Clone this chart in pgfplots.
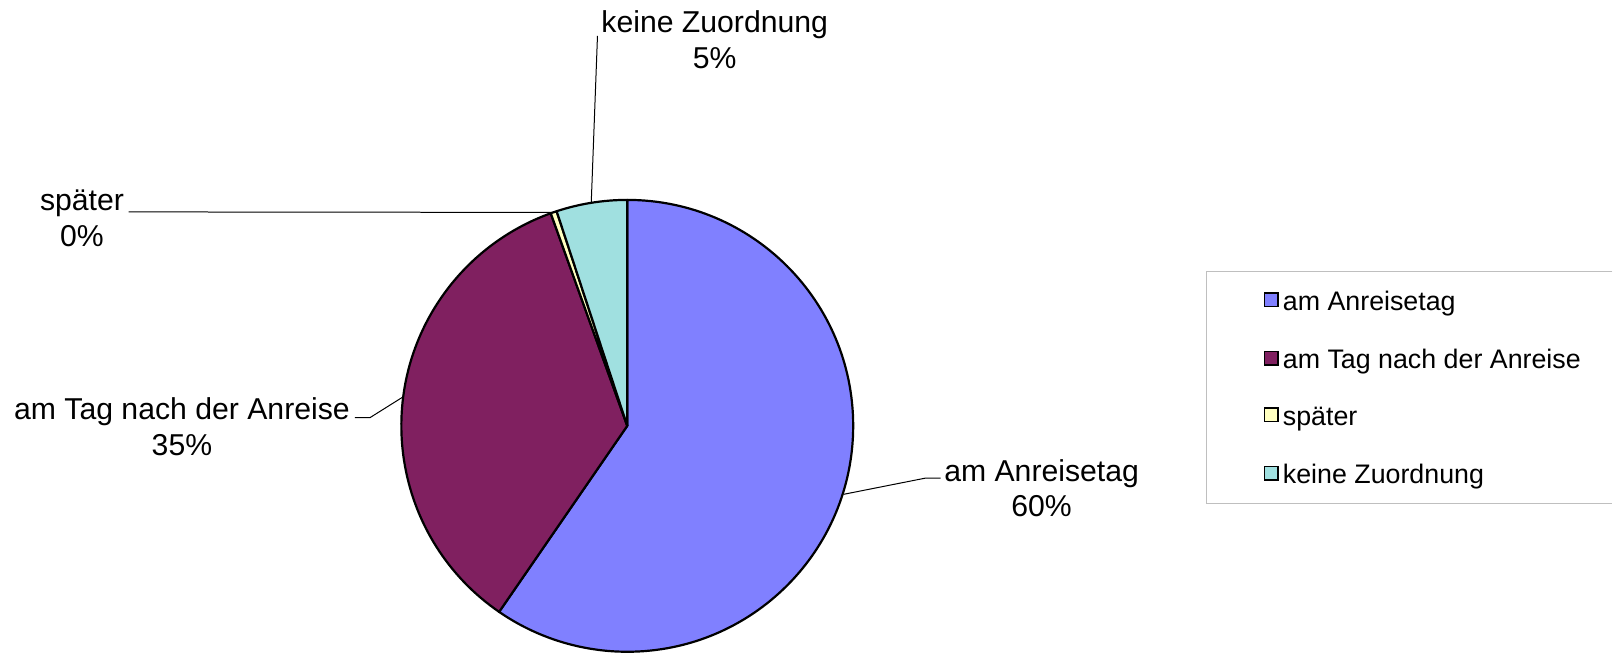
\documentclass[border=0pt]{standalone}
\usepackage{fontspec}
\setmainfont{Liberation Sans}
\usepackage{pgfplots}
\pgfplotsset{compat=1.18}
\definecolor{cA}{HTML}{8080FF}
\definecolor{cB}{HTML}{802060}
\definecolor{cC}{HTML}{FFFFC0}
\definecolor{cD}{HTML}{A0E0E0}
\definecolor{lgray}{HTML}{BFBFBF}
\tikzset{lab/.style={font=\fontsize{15.1bp}{18bp}\selectfont,inner sep=0pt,anchor=base},
  leg/.style={font=\fontsize{13.4bp}{16bp}\selectfont,inner sep=0pt,anchor=base west}}
\begin{document}
\begin{tikzpicture}
% shares in percent
\def\vA{59.6}% am Anreisetag
\def\vB{34.9}% am Tag nach der Anreise
\def\vC{0.44}% spaeter
\def\vD{5.06}% keine Zuordnung
\pgfmathsetmacro{\sA}{90}
\pgfmathsetmacro{\eA}{\sA-3.6*\vA}
\pgfmathsetmacro{\eB}{\eA-3.6*\vB}
\pgfmathsetmacro{\eC}{\eB-3.6*\vC}
\pgfmathsetmacro{\eD}{\eC-3.6*\vD}
\begin{axis}[x=0.5bp,y=0.5bp,xmin=0,xmax=1613,ymin=0,ymax=653,hide axis,clip=false]
\path (axis cs:0,0) rectangle (axis cs:1613,653);
\filldraw[fill=cA,draw=black,line width=1.1bp,line join=round] (axis cs:627.5,227) -- ++(\sA:113bp) arc[start angle=\sA,end angle=\eA,radius=113bp] -- cycle;
\filldraw[fill=cB,draw=black,line width=1.1bp,line join=round] (axis cs:627.5,227) -- ++(\eA:113bp) arc[start angle=\eA,end angle=\eB,radius=113bp] -- cycle;
\filldraw[fill=cC,draw=black,line width=1.1bp,line join=round] (axis cs:627.5,227) -- ++(\eB:113bp) arc[start angle=\eB,end angle=\eC,radius=113bp] -- cycle;
\filldraw[fill=cD,draw=black,line width=1.1bp,line join=round] (axis cs:627.5,227) -- ++(\eC:113bp) arc[start angle=\eC,end angle=\eD,radius=113bp] -- cycle;
% leader lines
\draw[line width=0.5bp] (axis cs:597.7,617) -- (axis cs:591.5,451);
\draw[line width=0.5bp] (axis cs:128.6,441) -- (axis cs:553.5,440.5);
\draw[line width=0.5bp] (axis cs:355,235.3) -- (axis cs:370.3,235.3) -- (axis cs:402.5,255.5);
\draw[line width=0.5bp] (axis cs:941,174.7) -- (axis cs:925.8,174.7) -- (axis cs:844,158.5);
% labels
\node[lab] at (axis cs:715,620) {keine Zuordnung};
\node[lab] at (axis cs:715,584) {5\%};
\node[lab] at (axis cs:82,442) {später};
\node[lab] at (axis cs:82,406) {0\%};
\node[lab] at (axis cs:182,233) {am Tag nach der Anreise};
\node[lab] at (axis cs:182,197) {35\%};
\node[lab] at (axis cs:1042,171.5) {am Anreisetag};
\node[lab] at (axis cs:1042,136) {60\%};
% legend
\draw[lgray,line width=0.6bp] (axis cs:1613,381.3) -- (axis cs:1207.3,381.3) -- (axis cs:1207.3,149) -- (axis cs:1613,149);
\filldraw[fill=cA,draw=black,line width=0.8bp] (axis cs:1265,346.5) rectangle (axis cs:1278.5,360);
\filldraw[fill=cB,draw=black,line width=0.8bp] (axis cs:1265,288) rectangle (axis cs:1278.5,301.5);
\filldraw[fill=cC,draw=black,line width=0.8bp] (axis cs:1265,231.5) rectangle (axis cs:1278.5,245);
\filldraw[fill=cD,draw=black,line width=0.8bp] (axis cs:1265,173) rectangle (axis cs:1278.5,186.5);
\node[leg] at (axis cs:1283,342) {am Anreisetag};
\node[leg] at (axis cs:1283,284) {am Tag nach der Anreise};
\node[leg] at (axis cs:1283,227) {später};
\node[leg] at (axis cs:1283,169) {keine Zuordnung};
\end{axis}
\end{tikzpicture}
\end{document}
